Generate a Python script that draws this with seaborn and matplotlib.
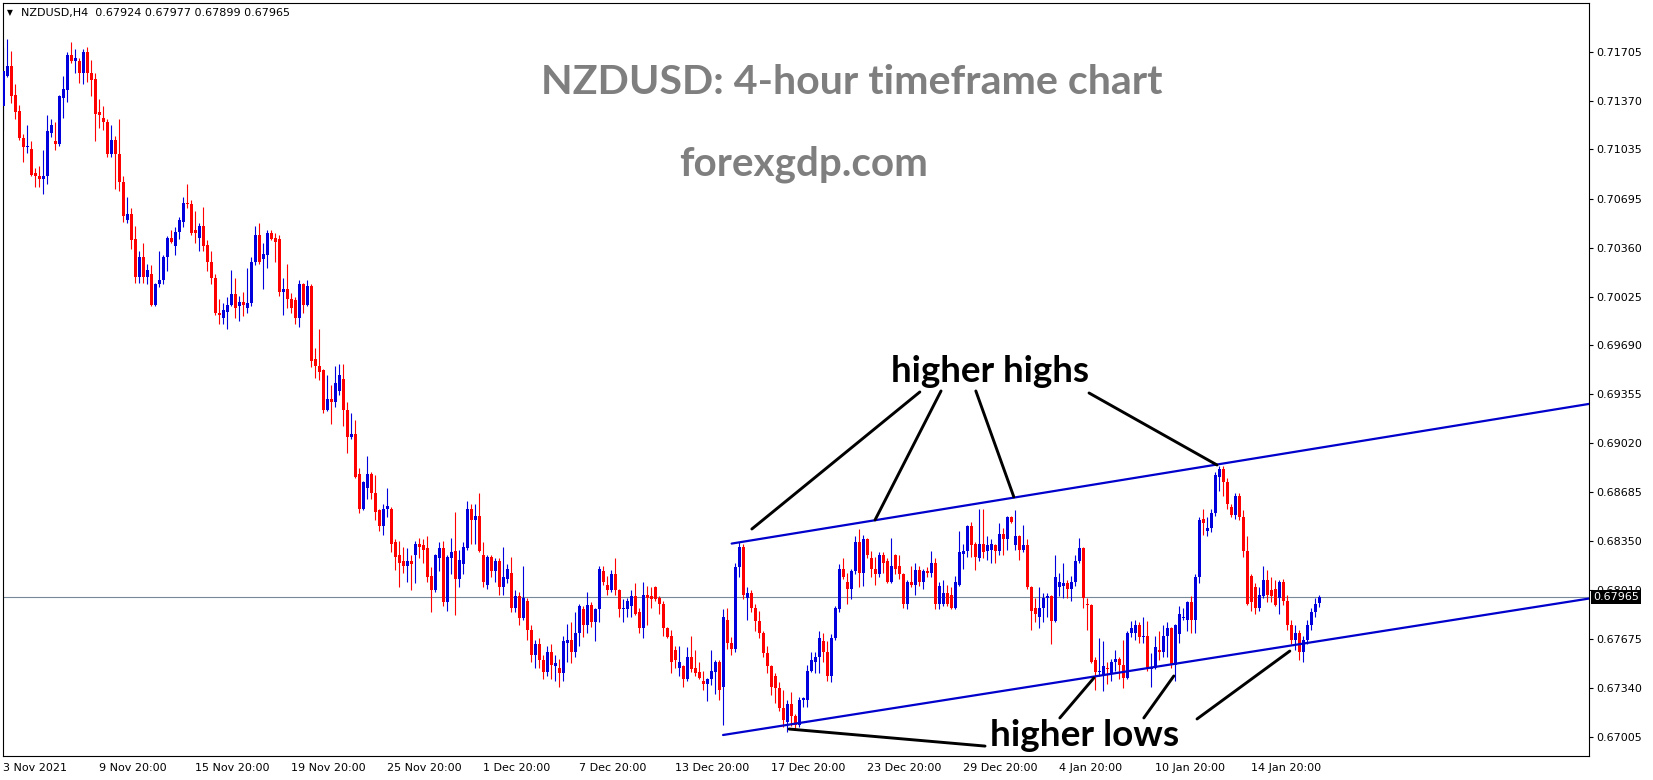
import matplotlib
matplotlib.use("Agg")
import matplotlib.pyplot as plt
import matplotlib.transforms as mtrans
import seaborn as sns
import numpy as np
import pandas as pd

# ---------------- data (prices in units of 0.0001) ----------------
opens = [7133,7154,7161,7141,7130,7111,7105,7104,7087,7085,7083,7085,7115,7109,7107,7139,7144,7168,7164,7164,
         7156,7170,7156,7152,7129,7125,7122,7100,7110,7100,7081,7055,7059,7042,7016,7030,7016,7018,6997,7011,
         7014,7030,7043,7037,7047,7054,7067,7066,7048,7043,7051,7038,7026,7015,6991,6988,6992,6997,7004,6996,
         6999,6995,6998,7026,7045,7028,7031,7046,7043,7042,7006,7008,7001,7000,6988,7011,6997,7010,6960,6955,
         6952,6925,6932,6930,6938,6946,6925,6906,6908,6881,6857,6871,6881,6868,6856,6845,6857,6857,6834,6825,
         6821,6818,6821,6825,6833,6832,6830,6811,6801,6823,6830,6793,6823,6828,6809,6819,6830,6857,6849,6852,
         6825,6805,6824,6814,6821,6803,6809,6813,6789,6797,6782,6794,6774,6757,6764,6753,6745,6759,6749,6748,
         6744,6765,6767,6759,6772,6788,6777,6791,6779,6788,6814,6805,6801,6812,6801,6788,6788,6790,6797,6786,
         6775,6798,6797,6803,6796,6792,6775,6770,6760,6748,6749,6740,6755,6748,6745,6739,6737,6740,6745,6752,
         6735,6781,6765,6761,6817,6831,6796,6799,6789,6780,6772,6758,6749,6742,6734,6720,6711,6723,6715,6709,
         6726,6726,6746,6752,6755,6766,6759,6742,6768,6788,6816,6807,6802,6814,6834,6813,6836,6823,6816,6812,
         6825,6821,6807,6825,6818,6812,6792,6807,6805,6815,6807,6814,6813,6820,6792,6792,6799,6798,6789,6805,
         6826,6828,6845,6833,6823,6833,6828,6829,6832,6828,6840,6836,6851,6832,6838,6829,6832,6803,6789,6783,
         6789,6796,6797,6780,6803,6804,6806,6802,6807,6821,6830,6792,6791,6753,6745,6742,6748,6744,6752,6754,
         6750,6741,6772,6772,6777,6769,6770,6747,6748,6760,6759,6770,6775,6750,6771,6782,6781,6793,6781,6810,
         6850,6842,6844,6854,6879,6884,6875,6858,6853,6866,6851,6828,6811,6803,6789,6797,6808,6801,6802,6796,
         6807,6794,6777,6767,6772,6759,6767,6777,6786,6792.4]
highs = [7174,7179,7171,7148,7134,7114,7120,7109,7091,7092,7103,7127,7124,7122,7141,7154,7170,7177,7172,7166,
         7172,7174,7165,7156,7138,7133,7124,7120,7113,7124,7085,7071,7063,7051,7034,7039,7025,7024,7012,7034,
         7031,7044,7048,7050,7057,7071,7080,7069,7061,7053,7064,7041,7034,7018,7001,6998,7002,7021,7015,7003,
         7006,7022,7030,7051,7053,7039,7048,7048,7046,7045,7015,7025,7005,7002,7014,7012,7014,7011,6967,6980,
         6953,6949,6942,6955,6956,6956,6930,6923,6918,6885,6876,6893,6882,6880,6857,6860,6871,6858,6836,6835,
         6831,6830,6825,6835,6837,6836,6838,6817,6826,6834,6835,6825,6837,6855,6829,6834,6862,6860,6860,6868,
         6834,6825,6825,6823,6823,6831,6819,6824,6801,6800,6818,6796,6777,6767,6768,6757,6763,6764,6757,6754,
         6770,6778,6779,6786,6792,6790,6800,6793,6789,6818,6818,6811,6815,6823,6802,6795,6796,6801,6806,6789,
         6807,6804,6803,6804,6797,6794,6776,6774,6763,6763,6750,6762,6770,6760,6752,6746,6741,6760,6753,6753,
         6788,6789,6769,6820,6834,6833,6803,6801,6792,6787,6773,6763,6750,6744,6738,6733,6726,6731,6716,6728,
         6728,6750,6759,6759,6773,6772,6766,6771,6790,6819,6823,6813,6816,6838,6843,6839,6837,6828,6824,6827,
         6827,6823,6837,6826,6825,6813,6808,6818,6820,6818,6816,6817,6828,6823,6807,6808,6805,6803,6811,6842,
         6833,6846,6848,6834,6857,6857,6838,6836,6833,6847,6844,6852,6852,6856,6839,6846,6836,6804,6796,6803,
         6799,6799,6798,6825,6813,6820,6808,6811,6825,6837,6831,6796,6792,6755,6768,6766,6752,6754,6760,6755,
         6767,6773,6780,6781,6779,6783,6780,6758,6770,6773,6777,6779,6776,6778,6790,6789,6794,6797,6812,6851,
         6857,6851,6857,6882,6886,6886,6878,6860,6868,6868,6856,6838,6812,6806,6803,6818,6815,6810,6808,6808,
         6809,6798,6781,6777,6774,6770,6781,6789,6796,6797.7]
lows = [7117,7153,7135,7124,7110,7095,7101,7085,7078,7078,7073,7080,7112,7103,7106,7125,7136,7163,7156,7149,
        7148,7150,7140,7109,7118,7117,7098,7098,7076,7075,7054,7053,7035,7012,7012,7012,7011,6996,6996,7009,
        7011,7020,7039,7031,7042,7050,7063,7045,7039,7034,7034,7020,7011,6990,6984,6984,6980,6996,6988,6986,
        6989,6991,6996,7024,7025,7008,7022,7041,7026,7003,6990,6995,6991,6984,6982,6991,6996,6954,6947,6945,
        6923,6924,6915,6927,6935,6914,6895,6905,6878,6854,6856,6864,6864,6849,6842,6839,6851,6827,6815,6803,
        6813,6807,6801,6806,6823,6820,6807,6786,6800,6814,6790,6787,6812,6784,6803,6812,6829,6833,6833,6827,
        6803,6802,6810,6807,6798,6798,6806,6786,6786,6777,6781,6767,6752,6748,6748,6740,6742,6740,6739,6735,
        6739,6752,6751,6755,6763,6769,6772,6776,6766,6779,6805,6798,6800,6798,6783,6779,6783,6783,6784,6772,
        6768,6777,6789,6794,6785,6770,6768,6744,6748,6742,6735,6739,6745,6742,6740,6733,6725,6736,6730,6726,
        6709,6761,6757,6759,6810,6795,6781,6786,6773,6768,6755,6744,6729,6724,6718,6707,6704,6708,6706,6707,
        6721,6721,6745,6744,6744,6752,6739,6738,6767,6786,6809,6792,6795,6812,6803,6804,6823,6810,6805,6810,
        6813,6806,6806,6812,6809,6789,6788,6803,6798,6804,6802,6810,6810,6788,6788,6790,6790,6788,6788,6804,
        6816,6824,6824,6815,6821,6823,6822,6820,6820,6825,6825,6829,6847,6829,6822,6827,6802,6774,6779,6775,
        6779,6783,6764,6779,6797,6796,6796,6794,6804,6820,6789,6774,6751,6733,6742,6732,6737,6739,6746,6740,
        6734,6740,6769,6767,6765,6765,6746,6735,6747,6753,6755,6755,6748,6739,6765,6781,6773,6772,6772,6806,
        6839,6838,6841,6852,6869,6866,6857,6851,6850,6849,6824,6791,6787,6785,6787,6796,6793,6793,6790,6785,
        6791,6774,6764,6760,6753,6752,6764,6774,6783,6789.9]
closes = [7157,7161,7140,7129,7111,7105,7106,7086,7085,7083,7085,7116,7120,7107,7140,7145,7168,7164,7166,7156,
          7170,7156,7151,7128,7127,7122,7100,7110,7100,7081,7058,7059,7041,7016,7030,7016,7021,6997,7011,7014,
          7030,7043,7040,7047,7055,7067,7066,7046,7046,7051,7037,7026,7015,6991,6990,6993,6997,7004,6995,6999,
          6997,6998,7026,7045,7026,7032,7046,7042,7040,7006,7008,7001,6995,6988,7011,6997,7010,6958,6955,6951,
          6925,6932,6930,6943,6949,6925,6906,6908,6879,6857,6875,6881,6868,6855,6845,6857,6859,6833,6824,6820,
          6818,6821,6819,6833,6831,6829,6810,6801,6825,6830,6793,6824,6827,6809,6822,6831,6857,6849,6852,6828,
          6807,6824,6814,6821,6803,6810,6816,6789,6797,6782,6796,6774,6757,6764,6753,6745,6759,6750,6751,6744,
          6766,6767,6759,6772,6790,6777,6791,6779,6788,6816,6807,6801,6812,6801,6788,6789,6794,6797,6785,6775,
          6798,6796,6795,6795,6792,6775,6769,6752,6753,6752,6740,6755,6747,6744,6741,6737,6740,6746,6752,6733,
          6783,6765,6761,6817,6831,6798,6799,6789,6780,6772,6758,6749,6735,6734,6720,6712,6723,6715,6709,6726,
          6727,6746,6753,6755,6768,6759,6742,6768,6789,6816,6810,6802,6814,6834,6813,6836,6825,6816,6812,6825,
          6820,6807,6818,6816,6812,6792,6807,6805,6815,6807,6814,6813,6820,6792,6804,6799,6792,6789,6807,6827,
          6828,6845,6832,6824,6833,6827,6832,6833,6828,6840,6836,6851,6848,6838,6829,6832,6803,6787,6785,6789,
          6796,6797,6780,6810,6807,6806,6802,6807,6821,6830,6796,6791,6752,6745,6746,6749,6747,6752,6754,6750,
          6741,6772,6775,6777,6769,6770,6747,6748,6762,6759,6770,6775,6750,6777,6785,6783,6793,6781,6810,6849,
          6847,6844,6854,6880,6884,6875,6860,6853,6866,6851,6828,6792,6793,6789,6798,6808,6798,6797,6791,6807,
          6794,6777,6767,6772,6759,6767,6777,6786,6792,6796.5]

tick_index = [0, 24, 48, 72, 96, 120, 144, 168, 192, 216, 240, 264, 288, 312]
tick_labels = ["3 Nov 2021", "9 Nov 20:00", "15 Nov 20:00", "19 Nov 20:00", "25 Nov 20:00",
               "1 Dec 20:00", "7 Dec 20:00", "13 Dec 20:00", "17 Dec 20:00", "23 Dec 20:00",
               "29 Dec 20:00", "4 Jan 20:00", "10 Jan 20:00", "14 Jan 20:00"]
price_ticks = [0.71705, 0.71370, 0.71035, 0.70695, 0.70360, 0.70025, 0.69690, 0.69355,
               0.69020, 0.68685, 0.68350, 0.68010, 0.67675, 0.67340, 0.67005]
upper_channel_x = [182.05, 396.4]
upper_channel_y = [0.68331, 0.69289]
lower_channel_x = [179.9, 396.4]
lower_channel_y = [0.67018, 0.67954]
bid_price = 0.67965
header_text = "NZDUSD,H4  0.67924 0.67977 0.67899 0.67965"
title_text = "NZDUSD: 4-hour timeframe chart"
site_text = "forexgdp.com"
hh_text = "higher highs"
hl_text = "higher lows"

# ---------------- figure ----------------
W, H = 1653, 780
sns.set_style("white", {"axes.edgecolor": "black"})
plt.rcParams["font.family"] = ["DejaVu Sans"]

df = pd.DataFrame({"o": np.array(opens) / 1e4, "h": np.array(highs) / 1e4,
                   "l": np.array(lows) / 1e4, "c": np.array(closes) / 1e4})
df["i"] = np.arange(len(df))
bull = df["c"] >= df["o"]
BLUE = "#0000dd"
RED = "#ff0000"
colors = np.where(bull, BLUE, RED)

fig = plt.figure(figsize=(W / 100, H / 100), dpi=100)
ax = fig.add_axes([2.7 / W, 1 - 756 / H, (1589 - 2.7) / W, (756 - 2.7) / H])
ax.set_xlim(-0.2, 396.4)
ax.set_ylim(0.66874, 0.72041)

ax.axhline(bid_price, color="#778899", lw=0.8, zorder=1)

ax.vlines(df["i"], df["l"], df["h"], colors=colors, lw=0.8, zorder=2)
body_bottom = np.minimum(df["o"], df["c"])
body_h = np.maximum(np.abs(df["c"] - df["o"]), 0.00006)
ax.bar(df["i"], body_h, bottom=body_bottom, width=0.72, color=colors, lw=0, zorder=3)

sns.lineplot(x=upper_channel_x, y=upper_channel_y, color="#0000cc", lw=1.6, ax=ax,
             estimator=None, sort=False, zorder=4)
sns.lineplot(x=lower_channel_x, y=lower_channel_y, color="#0000cc", lw=1.6, ax=ax,
             estimator=None, sort=False, zorder=4)

# annotation pointer lines
segs = [((229.1, 0.69371), (187.1, 0.68431)),
        ((234.4, 0.69378), (217.9, 0.68493)),
        ((243.1, 0.69378), (252.6, 0.68651)),
        ((271.4, 0.69364), (303.4, 0.68870)),
        ((245.4, 0.66942), (196.4, 0.67059)),
        ((264.1, 0.67135), (272.6, 0.67409)),
        ((285.1, 0.67135), (292.6, 0.67423)),
        ((298.4, 0.67128), (321.6, 0.67594))]
for (x0, y0), (x1, y1) in segs:
    ax.plot([x0, x1], [y0, y1], color="black", lw=2.1, solid_capstyle="round", zorder=5)

# axes styling
for s in ax.spines.values():
    s.set_linewidth(0.8)
    s.set_color("black")
ax.yaxis.tick_right()
ax.set_yticks(price_ticks)
ax.set_yticklabels([f"{p:.5f}" for p in price_ticks])
ax.set_xticks(tick_index)
ax.set_xticklabels(tick_labels, ha="left")
ax.tick_params(axis="both", direction="out", length=3, width=0.8, labelsize=8, colors="black", pad=2)
ax.tick_params(axis="x", pad=2)
for lab in ax.get_xticklabels():
    lab.set_horizontalalignment("left")

# bid price box
trans = mtrans.blended_transform_factory(ax.transAxes, ax.transData)
ax.text(1.0025, bid_price, f"{bid_price:.5f}", transform=trans, ha="left", va="center",
        color="white", fontsize=8, zorder=10, clip_on=False,
        bbox=dict(boxstyle="square,pad=0.18", fc="black", ec="none"))

# header
fig.text(7 / W, 1 - 13 / H, "\u25BC", fontsize=5.5, ha="left", va="center", color="black")
fig.text(20.7 / W, 1 - 12.7 / H, header_text, fontsize=8, ha="left", va="center", color="black")

# big texts
font_bold = dict(family=["Lato", "DejaVu Sans"], weight="bold")
t1 = ax.text(212.1, 0.71497, title_text, ha="center", va="center", color="#7f7f7f", fontsize=28, **font_bold)
t2 = ax.text(200.1, 0.70935, site_text, ha="center", va="center", color="#7f7f7f", fontsize=28, **font_bold)
t3 = ax.text(246.6, 0.69508, hh_text, ha="center", va="center", color="black", fontsize=26, **font_bold)
t4 = ax.text(270.4, 0.67018, hl_text, ha="center", va="center", color="black", fontsize=26, **font_bold)

fig.canvas.draw()
r = fig.canvas.get_renderer()
for t, target in [(t1, 622), (t2, 248), (t3, 199), (t4, 189)]:
    w = t.get_window_extent(r).width
    t.set_fontsize(t.get_fontsize() * target / w)

fig.savefig("out.png", dpi=100)
